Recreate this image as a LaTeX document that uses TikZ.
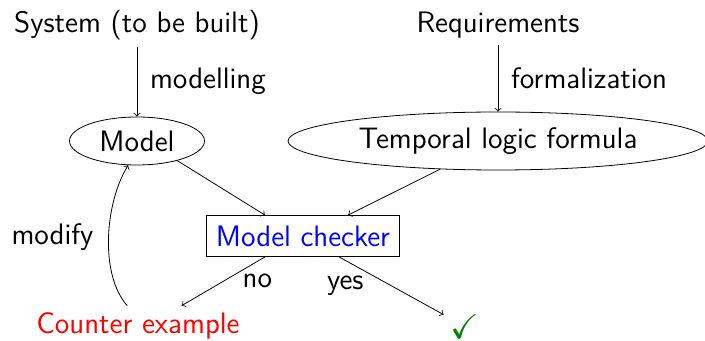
\documentclass[tikz,border=0pt]{standalone}
\usepackage{amssymb}
\usetikzlibrary{shapes.geometric}
\tikzset{every node/.style={font=\sffamily\fontsize{14.8pt}{18pt}\selectfont}, every path/.style={thin},
  blob/.style={draw, ellipse, inner sep=0pt}}

\begin{document}
\begin{tikzpicture}[x=0.5pt,y=-0.5pt]
  \useasboundingbox (0,0) rectangle (705,341);
  \node (sys) at (137, 25) {System (to be built)};
  \node (req) at (498, 25) {Requirements};
  \node[blob, minimum width=67.5pt, minimum height=24pt] (model) at (137,141) {Model};
  \node[blob, minimum width=210pt, minimum height=29pt] (tlf) at (498,141) {Temporal logic formula};
  \node[draw, text=blue, minimum width=96.5pt, minimum height=20.5pt] (mc) at (303,236) {Model checker};
  \node[red] (ce) at (138,326) {Counter example};
  \node[green!50!black, font=\LARGE] (ok) at (465,327) {$\checkmark$};
  \draw[->] (sys) -- node[right, xshift=3pt] {modelling} (model);
  \draw[->] (req) -- node[right, xshift=3pt] {formalization} (tlf);
  \draw[->] (model.-26) -- ([xshift=-19pt]mc.north);
  \draw[->] (tlf.-154) -- ([xshift=22.5pt]mc.north);
  \draw[->] ([xshift=-19pt]mc.south) -- node[xshift=17pt] {no} (ce.25);
  \draw[->] ([xshift=18pt]mc.south) -- node[xshift=-23pt] {yes} (ok.150);
  \draw[->] (ce.118) .. controls +(-28,-32) and +(-23,37) .. (model.250)
    node[midway, left, xshift=-4pt] {modify};
\end{tikzpicture}
\end{document}
